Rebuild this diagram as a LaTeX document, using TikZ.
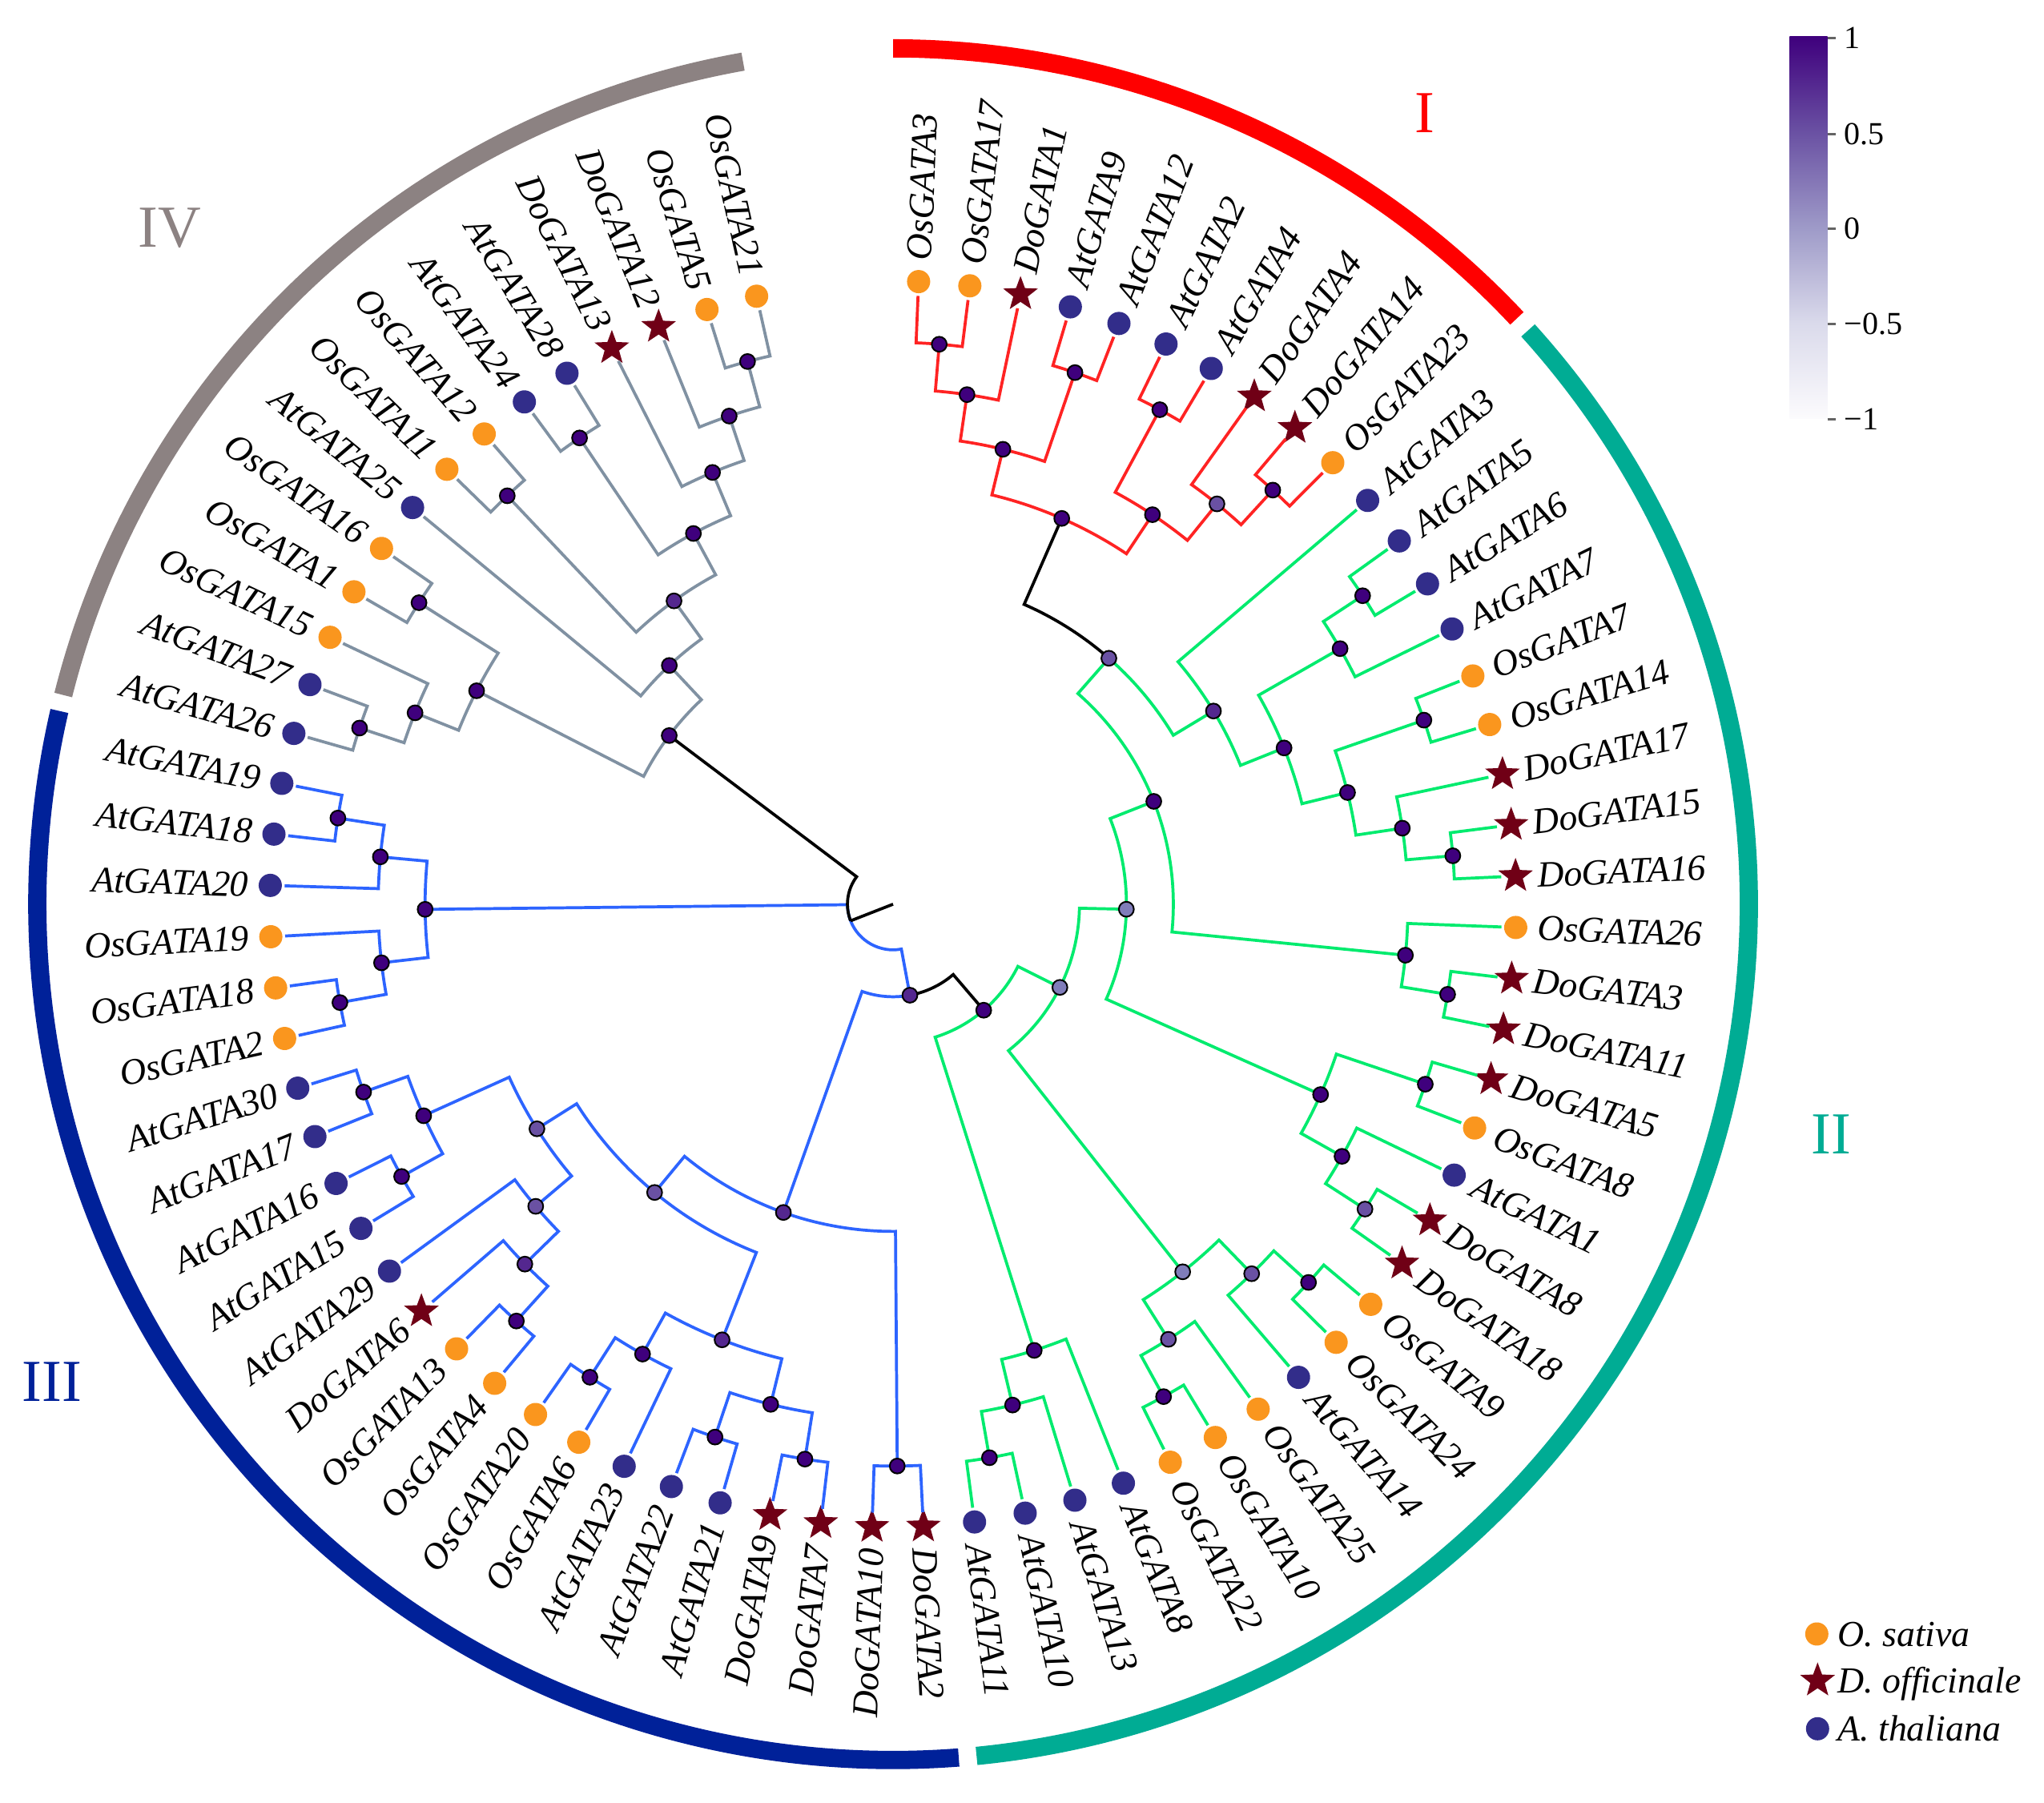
\documentclass[tikz,border=0pt]{standalone}
\usepackage{fontspec}
\setmainfont{Liberation Serif}
\usepackage{tikz}
\usetikzlibrary{shapes.geometric}

\definecolor{brI}{RGB}{255,35,35}
\definecolor{brII}{RGB}{0,235,110}
\definecolor{brIII}{RGB}{45,100,255}
\definecolor{brIV}{RGB}{128,145,162}
\definecolor{barI}{RGB}{255,0,0}
\definecolor{barII}{RGB}{0,172,148}
\definecolor{barIII}{RGB}{0,33,153}
\definecolor{barIV}{RGB}{140,130,130}
\definecolor{osc}{RGB}{250,150,30}
\definecolor{doc}{RGB}{112,0,22}
\definecolor{atc}{RGB}{50,45,138}
\definecolor{vA}{RGB}{63,0,125}
\definecolor{vB}{RGB}{84,39,143}
\definecolor{vC}{RGB}{106,81,163}
\definecolor{vD}{RGB}{128,125,186}
\definecolor{tickgray}{RGB}{100,100,100}
\definecolor{cb0}{RGB}{252,251,253}
\definecolor{cb1}{RGB}{218,218,235}
\definecolor{cb2}{RGB}{158,154,200}
\definecolor{cb3}{RGB}{106,81,163}
\definecolor{cb4}{RGB}{63,0,125}
\pgfdeclareverticalshading{barshade}{100bp}{color(0bp)=(cb0); color(25bp)=(cb0); color(37.5bp)=(cb1); color(50bp)=(cb2); color(62.5bp)=(cb3); color(75bp)=(cb4); color(100bp)=(cb4)}

% tree node: name, angle, radius
\newcommand\tnode[3]{%
  \expandafter\xdef\csname ta#1\endcsname{#2}%
  \expandafter\xdef\csname tr#1\endcsname{#3}%
  \coordinate (#1) at (#2:#3);}
% elbow from parent to child
\newcommand\branch[3][br]{%
  \edef\gtPA{\csname ta#2\endcsname}%
  \edef\gtPR{\csname tr#2\endcsname}%
  \edef\gtCA{\csname ta#3\endcsname}%
  \draw[#1] (#2) arc[start angle=\gtPA, end angle=\gtCA, radius=\gtPR] -- (#3);}
% inner node: [style of first branch] name, child, child, level
\newcommand\inode[5][br]{%
  \edef\gtA{\csname ta#3\endcsname}\edef\gtB{\csname ta#4\endcsname}%
  \pgfmathsetmacro\gtAng{(\gtA+\gtB)/2}%
  \pgfmathsetmacro\gtRad{4.67-0.36*#5}%
  \tnode{#2}{\gtAng}{\gtRad}%
  \branch[#1]{#2}{#3}\branch{#2}{#4}}

\begin{document}
\begin{tikzpicture}[
  lab/.style={font=\fontsize{8}{9}\selectfont\itshape, inner sep=0pt},
  leg/.style={font=\fontsize{8}{9}\selectfont\itshape, inner sep=0pt},
  cbl/.style={font=\fontsize{7}{8}\selectfont, inner sep=0pt},
  clade/.style={font=\fontsize{13}{15}\selectfont, inner sep=0pt},
  markO/.style={circle, fill=osc, inner sep=0pt, minimum size=0.178cm},
  markA/.style={circle, fill=atc, inner sep=0pt, minimum size=0.178cm},
  markD/.style={star, star points=5, star point ratio=2.4, fill=doc, inner sep=0pt, minimum size=0.28cm},
  vdot/.style={circle, draw=black, line width=0.35pt, inner sep=0pt, minimum size=0.115cm},
  brk/.style={line width=0.65pt, draw=black},
  bar/.style={line width=0.14cm},
  cbtick/.style={line width=0.5pt, draw=tickgray}]
\useasboundingbox (-6.851,-6.894) rectangle (8.829,6.936);
\fill[white] (-6.851,-6.894) rectangle (8.829,6.936);

% leaves
\foreach \ty/\nm [count=\k from 0] in {O/OsGATA3,O/OsGATA17,D/DoGATA1,A/AtGATA9,A/AtGATA12,A/AtGATA2,A/AtGATA4,D/DoGATA4,D/DoGATA14,O/OsGATA23,%
A/AtGATA3,A/AtGATA5,A/AtGATA6,A/AtGATA7,O/OsGATA7,O/OsGATA14,D/DoGATA17,D/DoGATA15,D/DoGATA16,O/OsGATA26,%
D/DoGATA3,D/DoGATA11,D/DoGATA5,O/OsGATA8,A/AtGATA1,D/DoGATA8,D/DoGATA18,O/OsGATA9,O/OsGATA24,A/AtGATA14,%
O/OsGATA25,O/OsGATA10,O/OsGATA22,A/AtGATA8,A/AtGATA13,A/AtGATA10,A/AtGATA11,%
D/DoGATA2,D/DoGATA10,D/DoGATA7,D/DoGATA9,A/AtGATA21,A/AtGATA22,A/AtGATA23,O/OsGATA6,O/OsGATA20,O/OsGATA4,%
O/OsGATA13,D/DoGATA6,A/AtGATA29,A/AtGATA15,A/AtGATA16,A/AtGATA17,A/AtGATA30,O/OsGATA2,O/OsGATA18,O/OsGATA19,%
A/AtGATA20,A/AtGATA18,A/AtGATA19,%
A/AtGATA26,A/AtGATA27,O/OsGATA15,O/OsGATA1,O/OsGATA16,A/AtGATA25,O/OsGATA11,O/OsGATA12,A/AtGATA24,A/AtGATA28,%
D/DoGATA13,D/DoGATA12,O/OsGATA5,O/OsGATA21}{
  \pgfmathsetmacro\la{87.65-4.726*\k}
  \tnode{\nm}{\la}{4.67}
  \node[mark\ty] (m-\nm) at (\la:4.78) {};
  \ifnum\k<38
    \node[lab, rotate=\la, anchor=west] (t-\nm) at (\la:4.94) {\nm};
  \else
    \pgfmathsetmacro\lr{\la+180}
    \node[lab, rotate=\lr, anchor=east] (t-\nm) at (\la:4.94) {\nm};
  \fi
}

% clade I
\tikzset{br/.style={line width=0.65pt, draw=brI}}
\inode{i1}{OsGATA3}{OsGATA17}{1}
\inode{i2}{i1}{DoGATA1}{2}
\inode{i3}{AtGATA9}{AtGATA12}{1}
\inode{i4}{i2}{i3}{3}
\inode{i5}{AtGATA2}{AtGATA4}{1}
\inode{i6}{DoGATA14}{OsGATA23}{1}
\inode{i7}{DoGATA4}{i6}{2}
\inode{i8}{i5}{i7}{3}
\inode{i9}{i4}{i8}{4}

% clade II
\tikzset{br/.style={line width=0.65pt, draw=brII}}
\inode{ii1}{AtGATA5}{AtGATA6}{1}
\inode{ii2}{ii1}{AtGATA7}{2}
\inode{ii3}{OsGATA7}{OsGATA14}{1}
\inode{ii4}{DoGATA15}{DoGATA16}{1}
\inode{ii5}{DoGATA17}{ii4}{2}
\inode{ii6}{ii3}{ii5}{3}
\inode{ii7}{ii2}{ii6}{4}
\inode{ii8}{AtGATA3}{ii7}{5}
\inode[brk]{ii9}{i9}{ii8}{6}
\inode{ii10}{DoGATA3}{DoGATA11}{1}
\inode{ii11}{OsGATA26}{ii10}{2}
\inode{ii12}{ii9}{ii11}{7}
\inode{ii13}{DoGATA5}{OsGATA8}{1}
\inode{ii14}{DoGATA8}{DoGATA18}{1}
\inode{ii15}{AtGATA1}{ii14}{2}
\inode{ii16}{ii13}{ii15}{3}
\inode{ii17}{ii12}{ii16}{8}
\inode{ii18}{OsGATA9}{OsGATA24}{1}
\inode{ii19}{ii18}{AtGATA14}{2}
\inode{ii20}{OsGATA10}{OsGATA22}{1}
\inode{ii21}{OsGATA25}{ii20}{2}
\inode{ii22}{ii19}{ii21}{3}
\inode{ii23}{ii17}{ii22}{9}
\inode{ii24}{AtGATA11}{AtGATA10}{1}
\inode{ii25}{ii24}{AtGATA13}{2}
\inode{ii26}{ii25}{AtGATA8}{3}
\inode{ii27}{ii23}{ii26}{10}

% clade III
\tikzset{br/.style={line width=0.65pt, draw=brIII}}
\inode{iii1}{DoGATA2}{DoGATA10}{1}
\inode{iii2}{DoGATA7}{DoGATA9}{1}
\inode{iii3}{AtGATA21}{AtGATA22}{1}
\inode{iii4}{iii3}{iii2}{2}
\inode{iii5}{OsGATA6}{OsGATA20}{1}
\inode{iii6}{AtGATA23}{iii5}{2}
\inode{iii7}{iii6}{iii4}{3}
\inode{iii8}{OsGATA4}{OsGATA13}{1}
\inode{iii9}{DoGATA6}{iii8}{2}
\inode{iii10}{AtGATA29}{iii9}{3}
\inode{iii11}{AtGATA15}{AtGATA16}{1}
\inode{iii12}{AtGATA17}{AtGATA30}{1}
\inode{iii13}{iii11}{iii12}{2}
\inode{iii14}{iii10}{iii13}{4}
\inode{iii15}{iii7}{iii14}{5}
\inode{iii16}{iii1}{iii15}{6}
\inode[brk]{base}{ii27}{iii16}{11}
\inode{iii17}{OsGATA2}{OsGATA18}{1}
\inode{iii18}{OsGATA19}{iii17}{2}
\inode{iii19}{AtGATA19}{AtGATA18}{1}
\inode{iii20}{AtGATA20}{iii19}{2}
\inode{iii21}{iii18}{iii20}{3}

% clade IV
\tikzset{br/.style={line width=0.65pt, draw=brIV}}
\inode{iv1}{OsGATA5}{OsGATA21}{1}
\inode{iv2}{DoGATA12}{iv1}{2}
\inode{iv3}{DoGATA13}{iv2}{3}
\inode{iv4}{AtGATA24}{AtGATA28}{1}
\inode{iv5}{iv3}{iv4}{4}
\inode{iv6}{OsGATA11}{OsGATA12}{1}
\inode{iv7}{iv5}{iv6}{5}
\inode{iv8}{iv7}{AtGATA25}{6}
\inode{iv9}{OsGATA16}{OsGATA1}{1}
\inode{iv10}{AtGATA26}{AtGATA27}{1}
\inode{iv11}{OsGATA15}{iv10}{2}
\inode{iv12}{iv9}{iv11}{3}
\inode{iv13}{iv8}{iv12}{7}

% root
\edef\gtA{\csname taiv13\endcsname}\edef\gtB{\csname taiii21\endcsname}\edef\gtC{\csname tabase\endcsname}
\pgfmathsetmacro\gtAng{(\gtA+\gtB+\gtC)/3}
\tnode{root}{\gtAng}{0.35}
\tikzset{br/.style={line width=0.65pt, draw=brIII}}
\branch{root}{iii21}
\branch{root}{base}
\branch[brk]{root}{iv13}
\coordinate (ctr) at (0,0);
\draw[brk] (root) -- (ctr);

% support dots
\foreach \nm/\cl in {i1/vA,i2/vA,i3/vA,i4/vA,i5/vA,i6/vA,i7/vC,i8/vA,i9/vA,%
ii1/vA,ii2/vA,ii3/vA,ii4/vA,ii5/vA,ii6/vA,ii7/vA,ii8/vB,ii9/vC,ii10/vA,%
ii11/vA,ii12/vA,ii13/vA,ii14/vC,ii15/vA,ii16/vA,ii17/vD,ii18/vA,ii19/vC,ii20/vA,%
ii21/vC,ii22/vD,ii23/vD,ii24/vA,ii25/vA,ii26/vA,ii27/vA,%
iii1/vA,iii2/vA,iii3/vA,iii4/vA,iii5/vA,iii6/vA,iii7/vB,iii8/vA,iii9/vB,iii10/vC,%
iii11/vA,iii12/vA,iii13/vA,iii14/vC,iii15/vC,iii16/vB,base/vB,%
iii17/vA,iii18/vA,iii19/vA,iii20/vA,iii21/vA,%
iv1/vA,iv2/vA,iv3/vA,iv4/vA,iv5/vA,iv6/vA,iv7/vB,iv8/vA,iv9/vA,iv10/vA,iv11/vA,iv12/vA,iv13/vA}
  \node[vdot, fill=\cl] (d-\nm) at (\nm) {};

% clade bars
\foreach \a/\b/\c in {90/43.2/barI, 42.1/-84.4/barII, -85.6/-193.05/barIII, -194.15/-259.9/barIV}
  \draw[bar, draw=\c] (\a:6.565) arc[start angle=\a, end angle=\b, radius=6.565];
\node[clade, text=barI] (c-I) at (4.079,6.066) {I};
\node[clade, text=barII] (c-II) at (7.199,-1.764) {II};
\node[clade, text=barIII] (c-III) at (-6.451,-3.664) {III};
\node[clade, text=barIV] (c-IV) at (-5.551,5.186) {IV};

% colour bar
\shade[shading=barshade] (6.877,3.724) rectangle (7.168,6.655);
\foreach \v/\y [count=\j] in {1/6.644, 0.5/5.907, 0/5.180, −0.5/4.450, −1/3.720}{
  \draw[cbtick] (7.168,\y) -- (7.229,\y);
  \node[cbl, anchor=west] (cb\j) at (7.289,\y) {\v};
}

% legend
\node[markO] (lg-O) at (7.086,-5.598) {};
\node[markD] (lg-D) at (7.092,-5.956) {};
\node[markA] (lg-A) at (7.092,-6.325) {};
\node[leg, anchor=base west] (lt-O) at (7.24,-5.691) {O. sativa};
\node[leg, anchor=base west] (lt-D) at (7.24,-6.049) {D. officinale};
\node[leg, anchor=base west] (lt-A) at (7.24,-6.418) {A. thaliana};
\end{tikzpicture}
\end{document}
